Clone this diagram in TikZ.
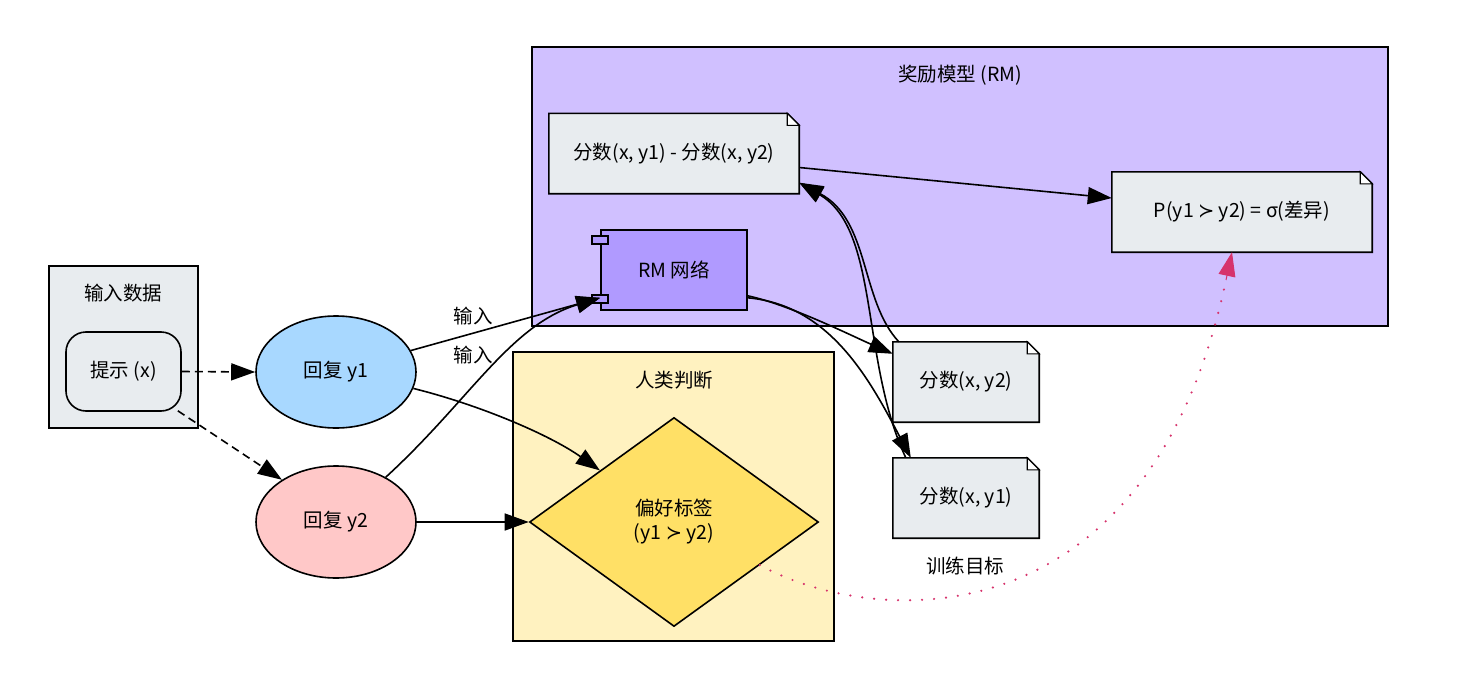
\documentclass[tikz,border=0pt]{standalone}
\usepackage{fontspec}
\setmainfont{Noto Sans CJK SC}
\newfontfamily\symfont{DejaVu Sans}
\usetikzlibrary{shapes.geometric,arrows.meta,calc}
\newcommand\pref{{\symfont\char"227B}}
\definecolor{rmcluster}{HTML}{D0C0FF}
\definecolor{rmnet}{HTML}{B09AFF}
\definecolor{humancl}{HTML}{FFF2C0}
\definecolor{diam}{HTML}{FFE066}
\definecolor{yone}{HTML}{A8D8FF}
\definecolor{ytwo}{HTML}{FFC8C8}
\definecolor{notefill}{HTML}{E8ECEF}
\definecolor{dotcol}{HTML}{D6336C}
\newcommand\notefold[1]{%
  \draw[line width=1.6pt,fill=notefill] (#1.north west) -- ([xshift=-12pt]#1.north east) -- ([yshift=-12pt]#1.north east) -- (#1.south east) -- (#1.south west) -- cycle;
  \draw[line width=1.1pt,fill=white] ([xshift=-12pt]#1.north east) |- ([yshift=-12pt]#1.north east) -- cycle;}
\begin{document}
\begin{tikzpicture}[x=1pt,y=-1pt,
  every node/.style={font=\fontsize{19.5}{24}\selectfont, align=center},
  cluster/.style={draw, line width=1.6pt, rectangle, inner sep=0},
  notebox/.style={rectangle, inner sep=0, minimum width=#1, minimum height=80pt},
  arr/.style={-{Triangle[length=24pt,width=17pt]}, line width=1.6pt},
  ell/.style={ellipse, draw, line width=1.6pt, minimum width=160pt, minimum height=112pt, inner sep=0}]
\useasboundingbox (0,0) rectangle (1467,693);
% clusters
\node[cluster, fill=rmcluster, minimum width=856pt, minimum height=279pt] (rmc) at (960,186.5) {};
\node (rmct) at (960,75) {奖励模型 (RM)};
\node[cluster, fill=humancl, minimum width=321pt, minimum height=289pt] (hc) at (673.5,496.5) {};
\node (hct) at (674,380) {人类判断};
\node[cluster, fill=notefill, minimum width=149pt, minimum height=162pt] (ic) at (123.5,347) {};
\node (ict) at (123,293) {输入数据};
% nodes
\node[draw, line width=1.6pt, rounded corners=20pt, fill=notefill, minimum width=115pt, minimum height=79pt, inner sep=0] (prompt) at (123.5,371.5) {提示 (x)};
\node[ell, fill=yone] (y1) at (336,372) {回复 y1};
\node[ell, fill=ytwo] (y2) at (336,522) {回复 y2};
\node[diamond, draw, line width=1.6pt, fill=diam, minimum width=289pt, minimum height=209pt, inner sep=0] (pl) at (674,522) {偏好标签\\(y1 \pref\ y2)};
\node[draw, line width=1.6pt, fill=rmnet, minimum width=146pt, minimum height=80pt, inner sep=0] (rm) at (674,270) {RM 网络};
\draw[line width=1.6pt, fill=rmnet] ([shift={(-8,7)}]rm.north west) rectangle ([shift={(8,15)}]rm.north west);
\draw[line width=1.6pt, fill=rmnet] ([shift={(-8,-16)}]rm.south west) rectangle ([shift={(8,-8)}]rm.south west);
\node[notebox=250pt] (diff) at (674,153.5) {};
\notefold{diff}
\node at (diff) {分数(x, y1) - 分数(x, y2)};
\node[notebox=260pt] (prob) at (1242,212) {};
\notefold{prob}
\node at (prob) {P(y1 \pref\ y2) = σ(差异)};
\node[notebox=146pt] (fy2) at (966,382) {};
\notefold{fy2}
\node at (fy2) {分数(x, y2)};
\node[notebox=146pt] (fy1) at (966,498) {};
\notefold{fy1}
\node at (fy1) {分数(x, y1)};
\node (goal) at (965,566) {训练目标};
\node (lab1) at (473,316) {输入};
\node (lab2) at (473,355) {输入};
\coordinate (dottip) at (1226,280);
% edges
\draw[arr, dash pattern=on 8pt off 5pt] (prompt.east) -- (y1.west);
\draw[arr, dash pattern=on 8pt off 5pt] ([xshift=-4pt,yshift=1pt]prompt.south east) -- (y2.142);
\draw[arr] (y1.16) -- ([yshift=13pt]rm.south west);
\draw[arr] (y2.42) .. controls (470,400) and (510,325) .. ([yshift=13pt]rm.south west);
\draw[arr] (y1.-12) .. controls (480,405) and (550,435) .. ($(pl.west)!0.49!(pl.north)$);
\draw[arr] (y2.east) -- (pl.west);
\draw[arr] ([yshift=15pt]rm.south east) .. controls (790,305) and (850,335) .. ([yshift=-12pt]fy2.north west);
\draw[arr] ([yshift=13pt]rm.south east) .. controls (830,305) and (870,380) .. ([xshift=18pt]fy1.north west);
\draw[arr] ([xshift=6pt]fy2.north west) .. controls (860,300) and (870,220) .. ([yshift=11pt]diff.south east);
\draw[arr] ([xshift=13pt]fy1.north west) .. controls (860,360) and (880,230) .. ([yshift=11pt]diff.south east);
\draw[arr] ([yshift=-14pt]diff.east) -- ([yshift=14pt]prob.west);
\draw[draw=dotcol, line width=2.4pt, line cap=round, dash pattern=on 0pt off 12pt] ($(pl.east)!0.41!(pl.south)$) .. controls (880,630) and (1150,640) .. (dottip);
\draw[-{Triangle[length=24pt,width=17pt]}, draw=dotcol, fill=dotcol, line width=1pt] (dottip) -- ([xshift=-10pt]prob.south);
\end{tikzpicture}
\end{document}
